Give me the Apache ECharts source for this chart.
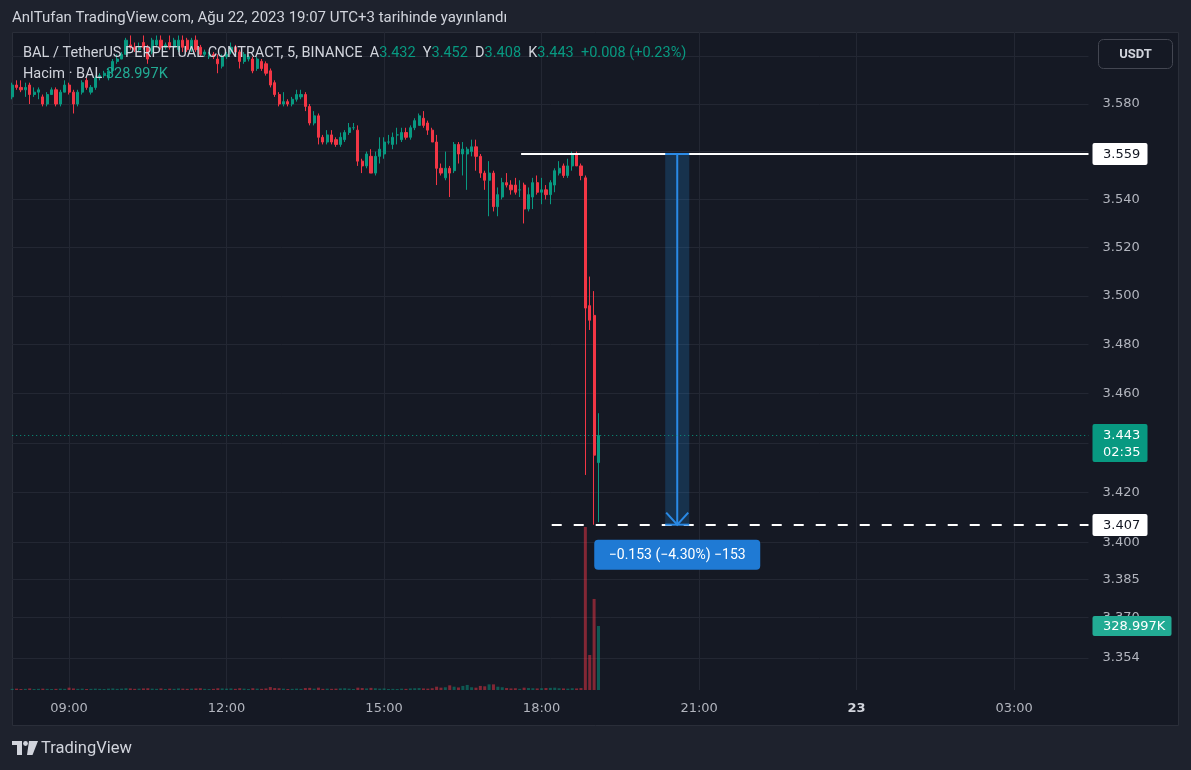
<!DOCTYPE html>
<html><head><meta charset="utf-8">
<script src="https://cdn.jsdelivr.net/npm/echarts@6/dist/echarts.min.js"></script>
<style>html,body{margin:0;padding:0;background:#1e222d}#c{width:1191px;height:770px}</style>
</head><body><div id="c"></div>
<script>
// ---------- DATA ----------
const firstSlot = [7, 55];      // first 5-minute slot on the axis
const slotCount = 247;          // 5-minute slots shown on the time axis
const categories = [];
for (let i = 0; i < slotCount; i++) {
  const m = (firstSlot[0] * 60 + firstSlot[1] + 5 * i) % 1440;
  categories.push(String(Math.floor(m / 60)).padStart(2, '0') + ':' + String(m % 60).padStart(2, '0'));
}
const timeLabels = ['09:00', '12:00', '15:00', '18:00', '21:00', '00:00', '03:00'];
// [open, close, low, high]
const candles = [
[3.583,3.588,3.582,3.589],[3.588,3.587,3.586,3.590],[3.587,3.586,3.585,3.590],[3.586,3.587,3.583,3.589],
[3.588,3.584,3.580,3.589],[3.584,3.585,3.583,3.587],[3.585,3.586,3.582,3.587],[3.583,3.580,3.579,3.584],
[3.580,3.584,3.579,3.585],[3.584,3.586,3.584,3.587],[3.586,3.580,3.579,3.587],[3.580,3.585,3.579,3.586],
[3.585,3.588,3.585,3.590],[3.588,3.585,3.584,3.589],[3.585,3.580,3.576,3.586],[3.580,3.585,3.579,3.586],
[3.585,3.589,3.584,3.590],[3.590,3.587,3.586,3.591],[3.585,3.587,3.584,3.588],[3.587,3.591,3.586,3.592],
[3.591,3.592,3.590,3.593],[3.592,3.593,3.591,3.594],[3.591,3.594,3.590,3.595],[3.594,3.598,3.593,3.599],
[3.598,3.599,3.597,3.601],[3.599,3.601,3.599,3.602],[3.601,3.607,3.601,3.608],[3.605,3.604,3.603,3.609],
[3.604,3.603,3.602,3.606],[3.603,3.604,3.602,3.606],[3.606,3.604,3.603,3.609],[3.604,3.599,3.597,3.605],
[3.602,3.607,3.601,3.608],[3.605,3.607,3.604,3.609],[3.607,3.604,3.603,3.609],[3.604,3.605,3.603,3.606],
[3.606,3.604,3.603,3.609],[3.604,3.607,3.603,3.608],[3.603,3.607,3.602,3.609],[3.607,3.604,3.602,3.609],
[3.607,3.603,3.602,3.608],[3.603,3.607,3.602,3.608],[3.607,3.603,3.602,3.609],[3.604,3.601,3.600,3.605],
[3.601,3.602,3.600,3.603],[3.600,3.601,3.599,3.602],[3.601,3.600,3.599,3.602],[3.599,3.597,3.593,3.601],
[3.596,3.600,3.595,3.601],[3.600,3.601,3.599,3.602],[3.602,3.604,3.601,3.606],[3.604,3.602,3.601,3.605],
[3.602,3.598,3.595,3.603],[3.598,3.601,3.597,3.602],[3.599,3.600,3.598,3.601],[3.599,3.594,3.593,3.600],
[3.595,3.599,3.594,3.600],[3.598,3.595,3.594,3.599],[3.597,3.593,3.592,3.598],[3.594,3.588,3.587,3.595],
[3.589,3.584,3.583,3.590],[3.584,3.580,3.579,3.585],[3.580,3.581,3.579,3.585],[3.581,3.580,3.579,3.582],
[3.580,3.582,3.579,3.583],[3.582,3.584,3.581,3.586],[3.583,3.584,3.582,3.586],[3.584,3.579,3.577,3.585],
[3.579,3.572,3.571,3.580],[3.572,3.575,3.571,3.577],[3.575,3.566,3.563,3.576],[3.566,3.564,3.563,3.567],
[3.564,3.567,3.563,3.569],[3.567,3.564,3.563,3.569],[3.565,3.563,3.562,3.566],[3.563,3.566,3.562,3.568],
[3.565,3.568,3.564,3.569],[3.568,3.570,3.567,3.572],[3.570,3.570,3.569,3.572],[3.569,3.556,3.554,3.571],
[3.556,3.554,3.551,3.557],[3.554,3.559,3.553,3.560],[3.558,3.551,3.551,3.561],[3.551,3.558,3.550,3.560],
[3.558,3.561,3.555,3.566],[3.559,3.564,3.557,3.566],[3.564,3.564,3.563,3.567],[3.563,3.566,3.561,3.568],
[3.567,3.567,3.563,3.570],[3.565,3.568,3.564,3.570],[3.568,3.566,3.565,3.570],[3.566,3.570,3.565,3.571],
[3.570,3.573,3.569,3.574],[3.571,3.575,3.571,3.576],[3.574,3.571,3.570,3.577],[3.572,3.569,3.567,3.573],
[3.569,3.564,3.564,3.570],[3.564,3.553,3.546,3.567],[3.553,3.551,3.550,3.555],[3.549,3.553,3.548,3.560],
[3.553,3.551,3.541,3.554],[3.552,3.563,3.551,3.564],[3.563,3.559,3.555,3.564],[3.559,3.561,3.550,3.564],
[3.559,3.561,3.544,3.562],[3.560,3.562,3.558,3.565],[3.562,3.558,3.552,3.565],[3.558,3.551,3.549,3.559],
[3.551,3.548,3.544,3.552],[3.548,3.551,3.533,3.556],[3.551,3.537,3.535,3.552],[3.537,3.542,3.533,3.545],
[3.541,3.547,3.540,3.549],[3.547,3.546,3.545,3.551],[3.546,3.544,3.542,3.548],[3.546,3.543,3.542,3.549],
[3.544,3.544,3.541,3.548],[3.546,3.536,3.530,3.547],[3.536,3.542,3.535,3.545],[3.541,3.547,3.536,3.549],
[3.547,3.543,3.542,3.550],[3.543,3.544,3.538,3.549],[3.544,3.542,3.540,3.546],[3.542,3.547,3.538,3.548],
[3.546,3.552,3.543,3.553],[3.551,3.553,3.550,3.556],[3.554,3.550,3.549,3.555],[3.550,3.554,3.549,3.557],
[3.554,3.559,3.552,3.560],[3.559,3.554,3.554,3.560],[3.554,3.550,3.548,3.555],[3.549,3.495,3.427,3.550],
[3.496,3.490,3.486,3.508],[3.492,3.435,3.407,3.502],[3.432,3.443,3.408,3.452]
];
// volume in thousands (K)
const volumesK = [
6,7,5,6,8,5,6,7,6,5, 6,7,6,12,8,6,7,5,6,7, 6,5,7,8,6,7,9,8,6,7, 8,9,7,6,8,5,7,6,8,7,
6,7,8,9,6,5,6,9,8,7, 8,6,9,7,5,9,7,6,8,15, 10,9,7,5,6,7,6,10,11,7, 12,6,7,6,7,8,9,7,5,12,
10,8,11,9,7,8,5,6,5,7, 6,8,9,10,8,7,9,17,12,14, 24,17,13,21,26,14,12,21,19,29, 29,17,14,10,8,9,6,12,10,9,
8,9,10,11,12,9,8,7,9,8, 10,838,180,468,328.997
];
const priceGridValues = [3.354, 3.370, 3.385, 3.400, 3.420, 3.440, 3.460, 3.480, 3.500, 3.520, 3.540, 3.560, 3.580, 3.600];
const priceLabelValues = [3.354, 3.370, 3.385, 3.400, 3.420, 3.460, 3.480, 3.500, 3.520, 3.540, 3.580];
const priceRange = [3.34132, 3.61048];
const levelPrices = [3.559, 3.407];
const levelStarts = ['17:40', '18:15'];
const measureTime = '20:35';
const measureText = '\u22120.153 (\u22124.30%) \u2212153';
const countdown = '02:35';

// ---------- STYLE ----------
const FONT = "Roboto, 'Noto Sans', sans-serif";
const AXFONT = "'DejaVu Sans', Roboto, sans-serif";
const UP = '#089981', DOWN = '#f23645';
const GRID = '#232733';
const TXT = '#b2b5be';
const PANE = '#151924';

const last = candles[candles.length - 1];
const prev = candles[candles.length - 2];
const chg = last[1] - prev[1];
const lastVol = volumesK[volumesK.length - 1];

const chart = echarts.init(document.getElementById('c'), null, {renderer: 'canvas'});

function boxText(text, x, y, fill) {
  return {type: 'text', style: {text, x, y, fill, fontSize: 13, fontFamily: AXFONT, align: 'left', verticalAlign: 'middle'}};
}

function renderAnno(params, api) {
  const k = params.dataIndex;
  const cs = params.coordSys;
  const right = cs.x + cs.width;
  const ax = right + 4;
  if (k === 0 || k === 1) {
    const p = api.coord([categories.indexOf(levelStarts[k]), levelPrices[k]]);
    const y = Math.round(p[1]);
    return {type: 'group', children: [
      {type: 'line', shape: {x1: p[0] - 3, y1: y, x2: right, y2: y}, style: {stroke: '#ffffff', lineWidth: 2, lineDash: k === 1 ? [10, 12] : null}},
      {type: 'rect', shape: {x: ax, y: y - 11, width: 55, height: 22, r: 2}, style: {fill: '#ffffff'}},
      boxText(levelPrices[k].toFixed(3), right + 14.5, y + 0.5, '#131722')
    ]};
  }
  if (k === 2) {
    const ci = categories.indexOf(measureTime);
    const t = api.coord([ci, levelPrices[0]]);
    const b = api.coord([ci, levelPrices[1]]);
    const bw = api.size([1, 0])[0];
    const h = bw * 2.75;
    const x = t[0];
    const blue = '#2a8ae6';
    return {type: 'group', children: [
      {type: 'rect', shape: {x: x - h, y: t[1], width: 2 * h, height: b[1] - t[1]}, style: {fill: 'rgba(33,150,243,0.2)'}},
      {type: 'line', shape: {x1: x, y1: t[1], x2: x, y2: b[1]}, style: {stroke: blue, lineWidth: 2}},
      {type: 'line', shape: {x1: x - h, y1: t[1], x2: x + h, y2: t[1]}, style: {stroke: blue, lineWidth: 2}},
      {type: 'line', shape: {x1: x - h, y1: b[1], x2: x + h, y2: b[1]}, style: {stroke: blue, lineWidth: 2}},
      {type: 'polyline', shape: {points: [[x - h + 1, b[1] - 12], [x, b[1]], [x + h - 1, b[1] - 12]]}, style: {stroke: blue, lineWidth: 2, fill: null}},
      {type: 'rect', shape: {x: x - 83, y: b[1] + 15, width: 166, height: 30, r: 4}, style: {fill: '#1f7ad4'}},
      {type: 'text', style: {text: measureText, x: x, y: b[1] + 30.5, fill: '#ffffff', fontSize: 14, fontFamily: FONT, align: 'center', verticalAlign: 'middle'}}
    ]};
  }
  if (k === 3) {
    const p = api.coord([0, last[1]]);
    const y = Math.round(p[1]) + 0.5;
    return {type: 'group', children: [
      {type: 'line', shape: {x1: cs.x, y1: y, x2: right, y2: y}, style: {stroke: UP, lineWidth: 1, lineDash: [1, 3]}},
      {type: 'rect', shape: {x: ax, y: y - 11.5, width: 55, height: 38, r: 2}, style: {fill: UP}},
      boxText(last[1].toFixed(3), right + 14.5, y, '#ffffff'),
      boxText(countdown, right + 14.5, y + 17.5, '#ffffff')
    ]};
  }
  return null;
}

function renderVolLabel(params, api) {
  const cs = params.coordSys;
  const right = cs.x + cs.width;
  const p = api.coord([candles.length - 1, lastVol * 1000]);
  const y = Math.round(p[1]);
  return {type: 'group', children: [
    {type: 'rect', shape: {x: right + 4, y: y - 10, width: 79, height: 20, r: 2}, style: {fill: '#22ab94'}},
    boxText(lastVol.toFixed(3) + 'K', right + 14.5, y + 0.5, '#ffffff')
  ]};
}

const gridBox = {left: 12.2, right: 102.5, top: 32, bottom: 80};
const isTimeLabel = (i, v) => timeLabels.indexOf(v) >= 0;

const option = {
  backgroundColor: '#1e222d',
  animation: false,
  grid: [Object.assign({}, gridBox), Object.assign({}, gridBox)],
  xAxis: [
    {type: 'category', data: categories, boundaryGap: false, gridIndex: 0,
     axisLine: {show: false}, axisTick: {show: false},
     axisLabel: {interval: isTimeLabel, color: TXT, fontSize: 13, fontFamily: AXFONT, margin: 12,
       formatter: v => v === '00:00' ? '{b|23}' : v,
       rich: {b: {fontWeight: 'bold', color: '#d1d4dc', fontSize: 13, fontFamily: AXFONT}}},
     splitLine: {show: true, interval: isTimeLabel, lineStyle: {color: GRID, width: 1}}},
    {type: 'category', data: categories, boundaryGap: false, gridIndex: 1, show: false}
  ],
  yAxis: [
    {type: 'log', logBase: 10, gridIndex: 0, position: 'right', min: priceRange[0], max: priceRange[1],
     axisLine: {show: false},
     axisTick: {show: false, customValues: priceGridValues},
     axisLabel: {customValues: priceLabelValues, formatter: v => Number(v).toFixed(3), color: TXT, fontSize: 13, fontFamily: AXFONT, margin: 14},
     splitLine: {show: true, lineStyle: {color: GRID, width: 1}}},
    {type: 'value', gridIndex: 1, min: 0, max: 3382500, show: false, splitLine: {show: false}}
  ],
  series: [
    {type: 'bar', xAxisIndex: 1, yAxisIndex: 1, barWidth: 3, silent: true, z: 1,
     data: volumesK.map((v, i) => ({value: v * 1000, itemStyle: {color: candles[i][1] >= candles[i][0] ? 'rgba(8,153,129,0.5)' : 'rgba(242,54,69,0.5)'}}))},
    {type: 'candlestick', xAxisIndex: 0, yAxisIndex: 0, barWidth: 2.6, clip: true, silent: true, z: 3,
     itemStyle: {color: UP, color0: DOWN, borderColor: UP, borderColor0: DOWN, borderWidth: 1},
     data: candles},
    {type: 'custom', xAxisIndex: 0, yAxisIndex: 0, clip: false, silent: true, z: 10,
     renderItem: renderAnno, data: [[0, 3.5], [1, 3.5], [2, 3.5], [3, 3.5]]},
    {type: 'custom', xAxisIndex: 1, yAxisIndex: 1, clip: false, silent: true, z: 11,
     renderItem: renderVolLabel, data: [[0, 1]]}
  ],
  graphic: [
    {type: 'rect', z: -5, silent: true, shape: {x: 12.5, y: 32.5, width: 1166, height: 693}, style: {fill: PANE, stroke: '#2a2e39', lineWidth: 1}},
    {type: 'text', z: 20, x: 12, y: 18, style: {text: 'AnlTufan TradingView.com, Ağu 22, 2023 19:07 UTC+3 tarihinde yayınlandı', fill: '#d1d4dc', fontSize: 15, fontFamily: FONT, verticalAlign: 'middle'}},
    {type: 'text', z: 20, x: 23, y: 53, style: {
      text: '{n|BAL / TetherUS PERPETUAL CONTRACT, 5, BINANCE}  {n|A}{v|' + last[0].toFixed(3) + '}  {n|Y}{v|' + last[3].toFixed(3) + '}  {n|D}{v|' + last[2].toFixed(3) + '}  {n|K}{v|' + last[1].toFixed(3) + '}  {v|' + (chg >= 0 ? '+' : '') + chg.toFixed(3) + ' (' + (chg >= 0 ? '+' : '') + (chg / prev[1] * 100).toFixed(2) + '%)}',
      verticalAlign: 'middle', fontSize: 14.5, fontFamily: FONT,
      rich: {n: {fill: '#d1d4dc', fontSize: 14.5, fontFamily: FONT}, v: {fill: UP, fontSize: 14.5, fontFamily: FONT}}}},
    {type: 'text', z: 20, x: 23, y: 74, style: {
      text: '{n|Hacim · BAL} {v|' + lastVol.toFixed(3) + 'K}', verticalAlign: 'middle', fontSize: 14.5, fontFamily: FONT,
      rich: {n: {fill: '#d1d4dc', fontSize: 14.5, fontFamily: FONT}, v: {fill: '#22ab94', fontSize: 14.5, fontFamily: FONT}}}},
    {type: 'rect', z: 20, shape: {x: 1098.5, y: 39.5, width: 74, height: 29, r: 5}, style: {fill: PANE, stroke: '#434651', lineWidth: 1}},
    {type: 'text', z: 21, x: 1135.5, y: 54.5, style: {text: 'USDT', fill: '#d1d4dc', fontSize: 13, fontWeight: 'bold', fontFamily: FONT, align: 'center', verticalAlign: 'middle'}},
    {type: 'rect', z: 20, shape: {x: 12, y: 741, width: 10, height: 4}, style: {fill: '#d1d4dc'}},
    {type: 'rect', z: 20, shape: {x: 17, y: 741, width: 5, height: 14}, style: {fill: '#d1d4dc'}},
    {type: 'circle', z: 20, shape: {cx: 25.5, cy: 743.5, r: 2.4}, style: {fill: '#d1d4dc'}},
    {type: 'polygon', z: 20, shape: {points: [[29, 741], [38, 741], [32.5, 755], [27, 755]]}, style: {fill: '#d1d4dc'}},
    {type: 'text', z: 20, x: 41, y: 748.5, style: {text: 'TradingView', fill: '#d1d4dc', fontSize: 16.5, fontFamily: FONT, verticalAlign: 'middle'}}
  ]
};
chart.setOption(option);
</script>
</body></html>
